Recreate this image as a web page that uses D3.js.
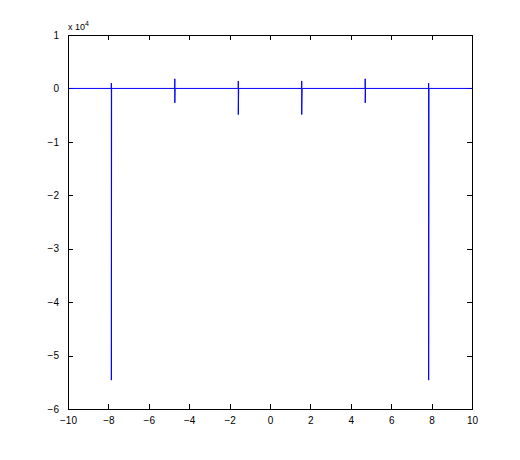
<!DOCTYPE html>
<html>
<head>
<meta charset="utf-8">
<script src="https://cdn.jsdelivr.net/npm/d3@7"></script>
<style>
    body { margin: 0; background: #fff; }
    svg text { font-family: "Liberation Sans", Arial, sans-serif; font-size: 10px; fill: #000; }
</style>
</head>
<body>
<div id="chart"></div>
<script>
"use strict";

// sampled curve, y in units of 1e4
var xVals = [-10, -7.87, -7.856, -7.854, -7.853, -7.84,
             -4.73, -4.714, -4.712, -4.711, -4.70,
             -1.59, -1.572, -1.5708, -1.5705, -1.55,
             1.55, 1.5695, 1.5705, 1.5708, 1.59,
             4.70, 4.711, 4.712, 4.714, 4.73,
             7.84, 7.852, 7.853, 7.854, 7.87, 10];
var yVals = [0, 0, 0.02, 0.10, -5.46, 0,
             0, 0.03, 0.18, -0.27, 0,
             0, 0.01, 0.14, -0.49, 0,
             0, 0.03, 0.14, -0.49, 0,
             0, 0.01, 0.18, -0.27, 0,
             0, 0.02, 0.10, -5.46, 0, 0];
var xTicks = [-10, -8, -6, -4, -2, 0, 2, 4, 6, 8, 10];
var yTicks = [-6, -5, -4, -3, -2, -1, 0, 1];

var width = 520, height = 460,
    margin = {left: 68, top: 35, right: 48, bottom: 51},
    pw = width - margin.left - margin.right,
    ph = height - margin.top - margin.bottom,
    tickLen = 5;

var svg = d3.select("#chart").append("svg")
    .attr("width", width)
    .attr("height", height);

var g = svg.append("g")
    .attr("transform", "translate(" + margin.left + "," + margin.top + ")");

var x = d3.scaleLinear().domain([-10, 10]).range([0, pw]);
var y = d3.scaleLinear().domain([-6, 1]).range([ph, 0]);
var fmt = d3.format("d");

function styleAxis(sel) {
    sel.select(".domain").remove();
    sel.selectAll(".tick line").attr("stroke", "#000").attr("shape-rendering", "crispEdges");
}

// bottom / left with labels, ticks pointing inward
g.append("g")
    .attr("transform", "translate(0," + ph + ")")
    .call(d3.axisBottom(x).tickValues(xTicks).tickFormat(fmt)
        .tickSizeInner(-tickLen).tickSizeOuter(0).tickPadding(8))
    .call(styleAxis);

g.append("g")
    .call(d3.axisLeft(y).tickValues(yTicks).tickFormat(fmt)
        .tickSizeInner(-tickLen).tickSizeOuter(0).tickPadding(9))
    .call(styleAxis);

// top / right mirrored ticks, no labels
g.append("g")
    .call(d3.axisTop(x).tickValues(xTicks).tickSizeInner(-tickLen).tickSizeOuter(0).tickFormat(""))
    .call(styleAxis);

g.append("g")
    .attr("transform", "translate(" + pw + ",0)")
    .call(d3.axisRight(y).tickValues(yTicks).tickSizeInner(-tickLen).tickSizeOuter(0).tickFormat(""))
    .call(styleAxis);

// let the css font apply to axis labels
g.selectAll("g").attr("font-family", null).attr("font-size", null);

// the data line
var line = d3.line()
    .x(function (d) { return x(d[0]); })
    .y(function (d) { return y(d[1]); });

g.append("path")
    .datum(d3.zip(xVals, yVals))
    .attr("d", line)
    .attr("fill", "none")
    .attr("stroke", "#0000ff")
    .attr("stroke-width", 1);

// box
g.append("rect")
    .attr("x", 0.5).attr("y", 0.5)
    .attr("width", pw).attr("height", ph)
    .attr("fill", "none")
    .attr("stroke", "#000")
    .attr("shape-rendering", "crispEdges");

// exponent label
var ex = svg.append("text")
    .attr("x", margin.left)
    .attr("y", margin.top - 5);
ex.append("tspan").attr("font-size", "9px").text("x 10");
ex.append("tspan").attr("font-size", "7px").attr("dy", -4).text("4");
</script>
</body>
</html>
